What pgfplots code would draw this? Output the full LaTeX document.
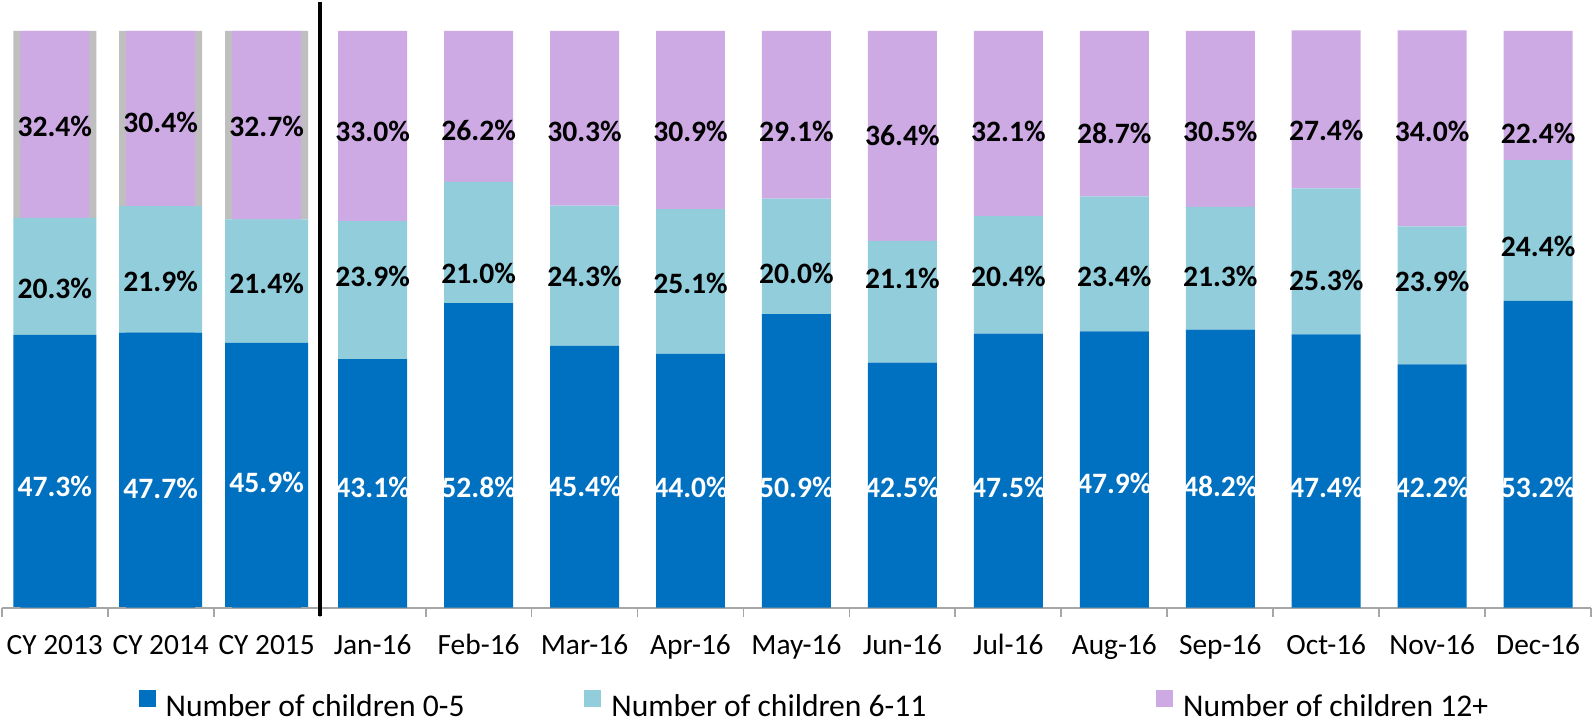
\documentclass[border=0pt]{standalone}
\usepackage{fontspec}
\setmainfont{Carlito}
\usepackage{pgfplots}
\usepackage{pgfplotstable}
\pgfplotsset{compat=1.18}

\definecolor{kidA}{HTML}{0070C0}
\definecolor{kidB}{HTML}{92CDDC}
\definecolor{kidC}{HTML}{CDAAE4}
\definecolor{cyEdge}{HTML}{BFBFBF}
\definecolor{axisGrey}{HTML}{A6A6A6}

\newcommand\lgfont{\fontsize{15.8}{19}\selectfont}

% shares in % (a = 0-5, b = 6-11, c = 12+), la/lb/lc = where each label sits
\pgfplotstableread{
x  a    b    c    la   lb   lc
0  47.3 20.3 32.4 21.0 55.3 83.4
1  47.7 21.9 30.4 20.6 56.5 84.1
2  45.9 21.4 32.7 21.8 56.2 83.5
3  43.1 23.9 33.0 20.8 57.5 82.5
4  52.8 21.0 26.2 20.8 57.9 82.7
5  45.4 24.3 30.3 21.1 57.4 82.5
6  44.0 25.1 30.9 20.8 56.2 82.5
7  50.9 20.0 29.1 20.8 57.9 82.5
8  42.5 21.1 36.4 20.8 57.0 81.8
9  47.5 20.4 32.1 20.8 57.5 82.5
10 47.9 23.4 28.7 21.5 57.5 82.3
11 48.2 21.3 30.5 21.1 57.4 82.5
12 47.4 25.3 27.4 20.8 56.7 82.7
13 42.2 23.9 34.0 20.8 56.5 82.5
14 53.2 24.4 22.4 20.8 62.6 82.3
}\shares

\begin{document}
\begin{tikzpicture}
\pgfplotsset{
  panel/.style={
    scale only axis, width=795pt, height=303pt,
    xmin=-0.5, xmax=14.5, ymin=0, ymax=105,
    clip=false,
  },
  barlabel/.style={
    draw=none, mark=none, nodes near coords={\pgfplotspointmeta\%},
    point meta=explicit symbolic,
    every node near coord/.append style={anchor=center, inner sep=0pt,
      font=\bfseries\fontsize{14.8}{18}\selectfont, text=#1},
  },
}
% wider bars under the calendar-year columns; grey shows as the 12+ edge
\begin{axis}[panel, hide axis, ybar stacked, bar width=41.5pt]
  \addplot[fill=kidA, draw=none, restrict x to domain=-0.5:2.5] table[x=x, y=a] {\shares};
  \addplot[fill=kidB, draw=none, restrict x to domain=-0.5:2.5] table[x=x, y=b] {\shares};
  \addplot[fill=cyEdge, draw=none, restrict x to domain=-0.5:2.5] table[x=x, y=c] {\shares};
\end{axis}

\begin{axis}[panel, ybar stacked, bar width=34.5pt,
    axis x line*=bottom, axis y line=none, ytick=\empty,
    axis line style={axisGrey, line width=0.9pt},
    xtick={0,...,14},
    xticklabels={CY 2013,CY 2014,CY 2015,Jan-16,Feb-16,Mar-16,Apr-16,May-16,
                 Jun-16,Jul-16,Aug-16,Sep-16,Oct-16,Nov-16,Dec-16},
    major tick length=0pt,
    minor xtick={-0.5,0.5,...,14.5}, minor tick length=4.5pt, xtick align=outside,
    minor tick style={axisGrey, line width=0.9pt},
    xticklabel style={anchor=base, yshift=-23.5pt, font=\fontsize{14.7}{18}\selectfont},
    legend columns=3,
    legend style={at={(0.5,0)}, anchor=north, xshift=8.5pt, yshift=-41pt,
      draw=none, fill=none, inner sep=0pt, nodes={inner sep=0pt},
      /tikz/every odd column/.append style={column sep=5pt},
      /tikz/every even column/.append style={column sep=0pt}},
    legend image code/.code={\fill[#1] (0pt,0pt) rectangle (8.5pt,8.5pt);},
  ]
  \addplot[fill=kidA, draw=none] table[x=x, y=a] {\shares};
  \addplot[fill=kidB, draw=none] table[x=x, y=b] {\shares};
  \addplot[fill=kidC, draw=none] table[x=x, y=c] {\shares};
  \legend{{\lgfont\makebox[209.5pt][l]{Number of children 0-5}},
          {\lgfont\makebox[272.5pt][l]{Number of children 6-11}},
          {\lgfont Number of children 12+}}
\end{axis}

% data labels and the divider between yearly and monthly columns
\begin{axis}[panel, hide axis]
  \addplot[barlabel=white] table[x=x, y=la, meta=a] {\shares};
  \addplot[barlabel=black] table[x=x, y=lb, meta=b] {\shares};
  \addplot[barlabel=black] table[x=x, y=lc, meta=c] {\shares};
  \draw[black, line width=2pt] (axis cs:2.5,-1.4) -- (axis cs:2.5,105);
  \path (axis cs:7,0) ++(0pt,-58.5pt);
\end{axis}
\end{tikzpicture}
\end{document}
